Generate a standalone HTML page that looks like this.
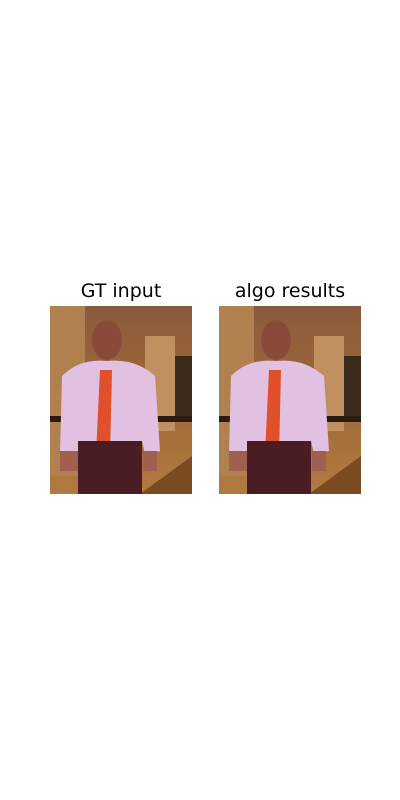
<!DOCTYPE html>
<html><head><meta charset="utf-8"><style>
body{margin:0;background:#fff;width:400px;height:800px;position:relative;font-family:"DejaVu Sans","Liberation Sans",sans-serif;}
.t{position:absolute;top:280px;font-size:19px;color:#000;text-align:center;width:200px}
svg{position:absolute;top:306px}
</style></head><body>
<div class="t" style="left:21px">GT input</div>
<div class="t" style="left:190px">algo results</div>
<svg width="0" height="0" style="position:absolute"><defs>
<linearGradient id="bg" x1="0" y1="0" x2="0" y2="1"><stop offset="0" stop-color="#8a5a3c"/><stop offset="0.5" stop-color="#a06a38"/><stop offset="1" stop-color="#b07a40"/></linearGradient>
<g id="photo">
<rect width="142" height="188" fill="url(#bg)"/>
<rect x="0" y="0" width="35" height="170" fill="#b0804e"/>
<rect x="95" y="30" width="30" height="95" fill="#c09060"/>
<rect x="125" y="50" width="17" height="60" fill="#3a2a1c"/>
<rect x="0" y="110" width="142" height="6" fill="#2a1a12"/>
<polygon points="90,188 142,150 142,188" fill="#7a4a22"/>
<ellipse cx="57" cy="34" rx="15" ry="20" fill="#8a4a3a"/>
<path d="M12,70 Q30,52 57,55 Q85,52 105,70 L110,145 L95,148 L92,135 L30,135 L28,150 L10,148 Z" fill="#e2c0e2"/>
<polygon points="50,64 62,64 60,150 54,155 46,148" fill="#e0502a"/>
<rect x="28" y="135" width="64" height="53" fill="#4a1c24"/>
<rect x="10" y="145" width="18" height="20" fill="#a06050"/>
<rect x="93" y="145" width="14" height="20" fill="#a06050"/>
</g></defs></svg>
<svg x="0" style="left:50px" width="142" height="188"><use href="#photo"/></svg>
<svg style="left:219px" width="142" height="188"><use href="#photo"/></svg>
</body></html>
